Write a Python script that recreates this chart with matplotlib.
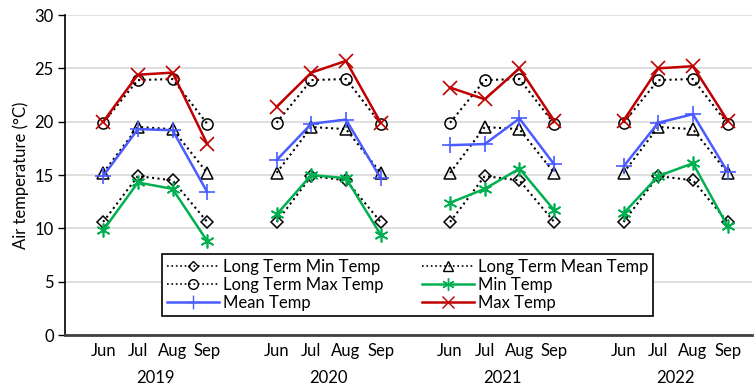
import matplotlib.pyplot as plt
from matplotlib.lines import Line2D
from matplotlib import transforms

plt.rcParams['font.family'] = ['Lato', 'DejaVu Sans']

years = ['2019', '2020', '2021', '2022']
months = ['Jun', 'Jul', 'Aug', 'Sep']

lt_min = [10.6, 14.9, 14.5, 10.6]
lt_mean = [15.2, 19.5, 19.3, 15.2]
lt_max = [19.9, 23.9, 24.0, 19.8]

min_temp = {
    '2019': [9.8, 14.3, 13.7, 8.8],
    '2020': [11.3, 15.0, 14.7, 9.4],
    '2021': [12.4, 13.7, 15.6, 11.7],
    '2022': [11.4, 14.9, 16.1, 10.2],
}
mean_temp = {
    '2019': [14.9, 19.3, 19.2, 13.4],
    '2020': [16.4, 19.8, 20.2, 14.7],
    '2021': [17.8, 17.9, 20.3, 16.0],
    '2022': [15.8, 19.9, 20.7, 15.3],
}
max_temp = {
    '2019': [20.0, 24.4, 24.6, 17.9],
    '2020': [21.4, 24.6, 25.7, 19.9],
    '2021': [23.2, 22.1, 25.0, 20.1],
    '2022': [20.1, 25.0, 25.2, 20.1],
}

green = '#00b050'
blue = '#4a5cff'
red = '#c00000'

fig = plt.figure(figsize=(7.54, 3.9), dpi=100)
ax = fig.add_axes([0.0862, 0.141, 0.911, 0.8205])

xticks = []
for i, yr in enumerate(years):
    x = [i * 5 + 1 + k for k in range(4)]
    xticks += x
    ax.plot(x, lt_min, ':', color='black', lw=1.5, marker='D', ms=6,
            mfc='none', mec='black', mew=1.1, zorder=3)
    ax.plot(x, lt_mean, ':', color='black', lw=1.5, marker='^', ms=8,
            mfc='none', mec='black', mew=1.1, zorder=3)
    ax.plot(x, lt_max, ':', color='black', lw=1.5, marker='o', ms=8,
            mfc='none', mec='black', mew=1.1, zorder=3)
    ax.plot(x, min_temp[yr], '-', color=green, lw=1.8, marker=(6, 2, 0),
            ms=10, mec=green, mew=1.2, zorder=4)
    ax.plot(x, mean_temp[yr], '-', color=blue, lw=1.8, marker='+',
            ms=11, mec=blue, mew=1.2, zorder=4)
    ax.plot(x, max_temp[yr], '-', color=red, lw=1.8, marker='x',
            ms=10, mec=red, mew=1.2, zorder=4)

ax.set_xlim(-0.1, 19.7)
ax.set_ylim(0, 30)
ax.set_yticks(range(0, 31, 5))
ax.set_xticks(xticks)
ax.set_xticklabels(months * len(years))
ax.tick_params(axis='x', length=0, pad=6, labelsize=12)
ax.tick_params(axis='y', length=5, width=1, labelsize=12, pad=3)
ax.yaxis.grid(True, color='#d9d9d9', lw=1.2)
ax.set_axisbelow(True)
for s in ['top', 'right']:
    ax.spines[s].set_visible(False)
ax.spines['left'].set_linewidth(1.2)
ax.spines['bottom'].set_linewidth(2)
ax.spines['bottom'].set_color('#404040')
ax.set_ylabel('Air temperature (°C)', fontsize=12, labelpad=4)

trans = transforms.blended_transform_factory(ax.transData, fig.transFigure)
for i, yr in enumerate(years):
    ax.text(i * 5 + 2.5, 0.03, yr, transform=trans, ha='center', va='center', fontsize=12)

handles = [
    Line2D([], [], ls=':', color='black', lw=1.2, marker='D', ms=5, mfc='none', mec='black'),
    Line2D([], [], ls=':', color='black', lw=1.2, marker='o', ms=7, mfc='none', mec='black'),
    Line2D([], [], ls='-', color=blue, lw=1.8, marker='+', ms=10, mec=blue),
    Line2D([], [], ls=':', color='black', lw=1.2, marker='^', ms=7, mfc='none', mec='black'),
    Line2D([], [], ls='-', color=green, lw=1.8, marker=(6, 2, 0), ms=9, mec=green),
    Line2D([], [], ls='-', color=red, lw=1.8, marker='x', ms=9, mec=red),
]
labels = ['Long Term Min Temp', 'Long Term Max Temp', 'Mean Temp',
          'Long Term Mean Temp', 'Min Temp', 'Max Temp']
leg = ax.legend(handles, labels, ncol=2, loc='center', bbox_to_anchor=(0.499, 0.156),
                fontsize=12, frameon=True, fancybox=False, edgecolor='black',
                framealpha=1, handlelength=3.1, handletextpad=0.25, columnspacing=2.3,
                labelspacing=0.12, borderpad=0.3, borderaxespad=0)
leg.get_frame().set_linewidth(1.2)

fig.savefig('out.png', dpi=100)
